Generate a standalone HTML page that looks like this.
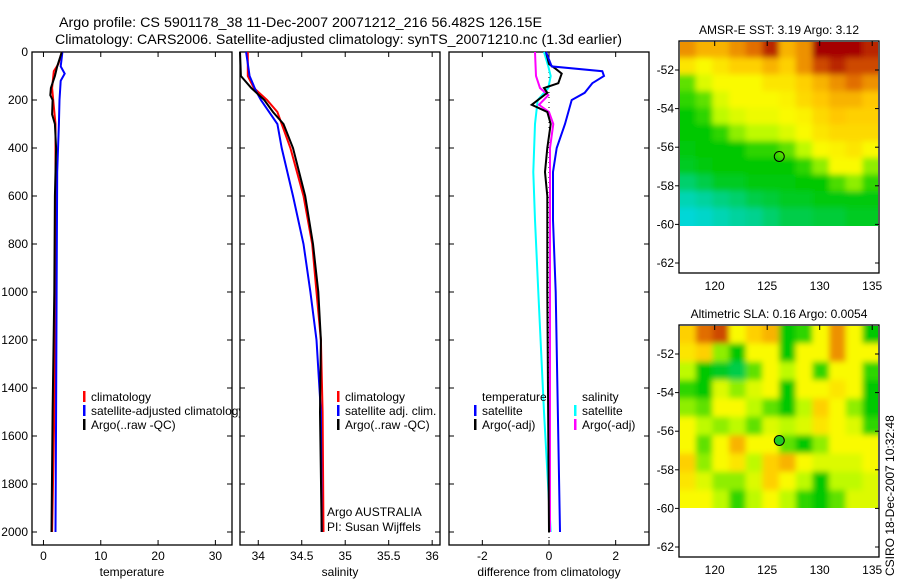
<!DOCTYPE html>
<html><head><meta charset="utf-8"><style>
body{margin:0;background:#fff;}
svg{display:block;font-family:"Liberation Sans",sans-serif;}
</style></head><body>
<svg id="c" width="900" height="580" viewBox="0 0 900 580" xmlns="http://www.w3.org/2000/svg">
<defs>
<filter id="bl" x="-10%" y="-10%" width="120%" height="120%"><feGaussianBlur stdDeviation="3"/></filter>
<clipPath id="cp1"><rect x="680" y="42" width="198" height="184"/></clipPath>
<clipPath id="cp2"><rect x="680" y="326" width="198" height="182"/></clipPath>
</defs>
<text x="59" y="27" font-size="13.5" textLength="483" lengthAdjust="spacingAndGlyphs">Argo profile: CS 5901178_38 11-Dec-2007 20071212_216 56.482S 126.15E</text>
<text x="55" y="44" font-size="13.5" textLength="567" lengthAdjust="spacingAndGlyphs">Climatology: CARS2006. Satellite-adjusted climatology: synTS_20071210.nc (1.3d earlier)</text>
<g id="g"></g>
</svg>
<script>
// depth axis
const depthTicks=[0,200,400,600,800,1000,1200,1400,1600,1800,2000];
// temperature panel data
const tDepth=[0,50,80,150,200,300,500,1000,1500,2000];
const tClim=[3.2,2.6,1.8,1.5,1.7,2.1,2.1,2.1,1.9,1.5];
const tSatDepth=[0,60,90,120,200,300,500,1000,1500,2000];
const tSat=[3.3,3.0,3.7,3.0,2.8,2.7,2.4,2.3,2.2,2.1];
const tArgoDepth=[0,60,100,150,180,200,260,300,400,600,1000,1500,2000];
const tArgo=[3.2,2.4,2.0,1.3,1.2,1.6,1.5,2.0,2.2,2.0,1.9,1.6,1.4];
const tTicks=[0,10,20,30];
// salinity panel data
const sDepth=[0,100,150,200,250,300,400,600,800,1000,1200,1500,2000];
const sClim=[33.88,33.88,33.95,34.10,34.22,34.27,34.37,34.52,34.62,34.67,34.72,34.74,34.75];
const sArgo=[33.79,33.80,33.92,34.07,34.17,34.29,34.40,34.54,34.63,34.69,34.72,34.71,34.73];
const sSatDepth=[0,100,160,200,300,400,600,800,1000,1200,1500,2000];
const sSat=[33.86,33.90,33.97,34.03,34.22,34.27,34.40,34.52,34.60,34.67,34.72,34.73];
const sTicks=[34,34.5,35,35.5,36];
// difference panel data
const dTSatDepth=[0,60,80,100,130,170,200,300,400,500,700,1000,2000];
const dTSat=[-0.09,0.08,1.6,1.65,1.3,1.07,0.68,0.48,0.23,0.12,0.12,0.2,0.33];
const dTArgoDepth=[0,50,70,90,130,150,170,220,250,300,400,500,600,1000,2000];
const dTArgo=[-0.09,0.0,0.2,0.38,0.28,-0.15,-0.05,-0.52,-0.05,0.05,-0.05,-0.12,-0.05,-0.05,0.0];
const dSArgoDepth=[0,100,150,180,220,250,300,400,600,2000];
const dSArgo=[-0.42,-0.39,-0.27,-0.02,-0.3,0.0,0.13,0.03,0.03,0.03];
const dSSatDepth=[0,60,100,150,200,300,500,700,1000,1500,2000];
const dSSat=[-0.15,-0.02,0.05,-0.02,-0.34,-0.42,-0.47,-0.42,-0.32,-0.15,0.05];
const dTicks=[-2,0,2];
// maps
const lonTicks=[120,125,130,135];
const latTicks=[-52,-54,-56,-58,-60,-62];
const sstGrid=[
[.8,.75,.75,.8,.85,.95,.75,.8,1,1,1,.95],
[.65,.6,.65,.7,.7,.75,.7,.8,.9,.95,.9,.9],
[.4,.55,.6,.6,.6,.65,.65,.7,.75,.8,.85,.8],
[.35,.4,.55,.6,.6,.6,.62,.68,.72,.75,.75,.72],
[.3,.35,.5,.55,.58,.58,.6,.62,.68,.72,.7,.7],
[.3,.3,.35,.45,.5,.5,.55,.6,.65,.68,.68,.68],
[.28,.3,.3,.3,.35,.35,.4,.5,.6,.62,.65,.6],
[.25,.28,.3,.3,.3,.3,.3,.35,.45,.6,.6,.45],
[.15,.2,.25,.25,.28,.28,.28,.3,.3,.38,.45,.35],
[.05,.08,.12,.15,.2,.22,.25,.25,.28,.28,.28,.28],
[0,.02,.05,.08,.1,.15,.2,.2,.22,.22,.25,.25]];
const slaGrid=[
[.7,.85,.9,.6,.7,.75,.3,.35,.6,.8,.6,.3],
[.65,.7,.45,.3,.6,.6,.3,.6,.6,.8,.6,.6],
[.5,.3,.25,.2,.4,.6,.5,.6,.35,.6,.6,.35],
[.35,.3,.55,.45,.55,.6,.3,.6,.6,.65,.6,.3],
[.45,.4,.6,.6,.5,.4,.3,.5,.7,.6,.45,.3],
[.6,.5,.45,.5,.4,.55,.5,.55,.65,.6,.55,.35],
[.6,.4,.6,.75,.6,.6,.4,.3,.45,.6,.6,.6],
[.7,.45,.6,.65,.5,.7,.75,.6,.55,.55,.55,.6],
[.65,.55,.45,.45,.55,.7,.6,.5,.3,.5,.5,.55],
[.6,.6,.5,.35,.5,.6,.5,.35,.3,.4,.55,.55]];

const NS='http://www.w3.org/2000/svg';
const G=document.getElementById('g');
function mk(tag,attrs,parent,txt){const e=document.createElementNS(NS,tag);for(const k in attrs)e.setAttribute(k,attrs[k]);if(txt!==undefined)e.textContent=txt;(parent||G).appendChild(e);return e;}
const yD=d=>52+d*0.24;
const Y0=52,Y1=545;

function panel(name,x0,x1,vmin,vmax,ticks,label,leftLabels){
  const xs=v=>x0+(v-vmin)/(vmax-vmin)*(x1-x0);
  const g=mk('g',{});
  
  
  mk('rect',{x:x0,y:Y0,width:x1-x0,height:Y1-Y0,fill:'#fff',stroke:'#000','stroke-width':1.3},g);
  ticks.forEach(t=>{const x=xs(t);
    mk('line',{x1:x,x2:x,y1:Y0,y2:Y0+5,stroke:'#000'},g);
    mk('line',{x1:x,x2:x,y1:Y1,y2:Y1-5,stroke:'#000'},g);
    const tl=mk('text',{x:x,y:Y1+15,'font-size':12,'text-anchor':'middle'},g,String(t));
    
    
  });
  depthTicks.forEach(d=>{const y=yD(d);
    mk('line',{x1:x0,x2:x0+5,y1:y,y2:y,stroke:'#000'},g);
    mk('line',{x1:x1,x2:x1-5,y1:y,y2:y,stroke:'#000'},g);
    if(leftLabels){const tl=mk('text',{x:x0-4,y:y+4,'font-size':12,'text-anchor':'end'},g,String(d));
      
      }
  });
  const al=mk('text',{x:(x0+x1)/2,y:576,'font-size':12,'text-anchor':'middle'},g,label);
  
  
  return {g,xs};
}
function line(p,depths,vals,color,name,w){
  const pts=depths.map((d,i)=>p.xs(vals[i]).toFixed(1)+','+yD(d).toFixed(1)).join(' ');
  const e=mk('polyline',{points:pts,fill:'none',stroke:color,'stroke-width':w||2},p.g);
  
  
}
function legend(g,x,y,items){
  items.forEach((it,i)=>{
    if(it[1]) mk('rect',{x:x,y:y+i*14-10,width:2.5,height:11,fill:it[1]},g);
    const t=mk('text',{x:x+8,y:y+i*14,'font-size':12},g,it[0]);
    
    
  });
}
// panel 1
const p1=panel('temperature-panel',32,232,-2,32.9,tTicks,'temperature',true);
line(p1,tDepth,tClim,'#f00','temp-climatology-line');
line(p1,tSatDepth,tSat,'#00f','temp-satellite-line');
line(p1,tArgoDepth,tArgo,'#000','temp-argo-line');
legend(p1.g,83,401,[['climatology','#f00'],['satellite-adjusted climatology','#00f'],['Argo(..raw -QC)','#000']]);
// panel 2
const p2=panel('salinity-panel',240,440,33.79,36.09,sTicks,'salinity',false);
line(p2,sDepth,sClim,'#f00','sal-climatology-line');
line(p2,sSatDepth,sSat,'#00f','sal-satellite-line');
line(p2,sDepth,sArgo,'#000','sal-argo-line');
legend(p2.g,337,401,[['climatology','#f00'],['satellite adj. clim.','#00f'],['Argo(..raw -QC)','#000']]);
let t=mk('text',{x:327,y:516,'font-size':12},p2.g,'Argo AUSTRALIA');
t=mk('text',{x:327,y:531,'font-size':12},p2.g,'PI: Susan Wijffels');
// panel 3
const p3=panel('difference-panel',449,649,-3,3,dTicks,'difference from climatology',false);
mk('line',{x1:p3.xs(0),x2:p3.xs(0),y1:yD(0),y2:yD(2030),stroke:'#000','stroke-dasharray':'1,4'},p3.g);
line(p3,dSSatDepth,dSSat,'#0ff','sal-satellite-diff-line');
line(p3,dSArgoDepth,dSArgo,'#f0f','sal-argo-diff-line');
line(p3,dTArgoDepth,dTArgo,'#000','temp-argo-diff-line');
line(p3,dTSatDepth,dTSat,'#00f','temp-satellite-diff-line');
legend(p3.g,474,401,[['temperature',null],['satellite','#00f'],['Argo(-adj)','#000']]);
legend(p3.g,574,401,[['salinity',null],['satellite','#0ff'],['Argo(-adj)','#f0f']]);

// maps
const stops=[[0,[0,215,215]],[0.3,[0,200,0]],[0.5,[190,250,0]],[0.6,[250,250,0]],[0.72,[255,200,0]],[0.85,[225,110,0]],[1,[165,0,0]]];
function cmap(v){for(let i=1;i<stops.length;i++){if(v<=stops[i][0]){const a=stops[i-1],b=stops[i],f=(v-a[0])/(b[0]-a[0]);return 'rgb('+a[1].map((c,k)=>Math.round(c+(b[1][k]-c)*f)).join(',')+')';}}return 'rgb(165,0,0)';}
function map(name,y0,title,grid,clip,filledDot){
  const x0=679,x1=879,y1=y0+232;
  const lx=lon=>679+(lon-116.6)*10.5;
  const ly=lat=>y0+29+(-52-lat)*19.3;
  const g=mk('g',{});
  
  
  const tt=mk('text',{x:779,y:y0-7,'font-size':12,'text-anchor':'middle'},g,title);
  
  
  const cg=mk('g',{'clip-path':'url(#'+clip+')'},g);
  const bg=mk('g',{filter:'url(#bl)'},cg);
  const rows=grid.length,cols=grid[0].length;
  const top=ly(-50.5),bot=ly(-60),cw=(x1-x0)/cols,ch=(bot-top)/rows;
  for(let r=-1;r<=rows;r++)for(let c=-1;c<=cols;c++){
    const rr=Math.min(Math.max(r,0),rows-1),cc=Math.min(Math.max(c,0),cols-1);
    mk('rect',{x:x0+c*cw,y:top+r*ch,width:cw+1,height:ch+1,fill:cmap(grid[rr][cc])},bg);
  }
  mk('rect',{x:x0,y:y0,width:x1-x0,height:y1-y0,fill:'none',stroke:'#000','stroke-width':1.3},g);
  lonTicks.forEach(l=>{const x=lx(l);
    mk('line',{x1:x,x2:x,y1:y0,y2:y0+5,stroke:'#000'},g);
    const e=mk('text',{x:x,y:y1+17,'font-size':12,'text-anchor':'middle'},g,String(l));
    
    });
  latTicks.forEach(l=>{const y=ly(l);
    mk('line',{x1:x0-4,x2:x0,y1:y,y2:y,stroke:'#000'},g);
    mk('line',{x1:x1-4,x2:x1,y1:y,y2:y,stroke:'#000'},g);
    const e=mk('text',{x:x0-5,y:y+4,'font-size':12,'text-anchor':'end'},g,String(l));
    
    });
  const dot=mk('circle',{cx:lx(126.15),cy:ly(-56.48),r:5,fill:filledDot?'#2c2':'none',stroke:'#000','stroke-width':1},g);
  
  
}
map('sst-map',41,'AMSR-E SST: 3.19 Argo: 3.12',sstGrid,'cp1',false);
map('sla-map',325,'Altimetric SLA: 0.16 Argo: 0.0054',slaGrid,'cp2',true);
t=mk('text',{x:0,y:0,'font-size':12,transform:'translate(894,576) rotate(-90)'},G,'CSIRO 18-Dec-2007 10:32:48');


</script>
</body></html>
